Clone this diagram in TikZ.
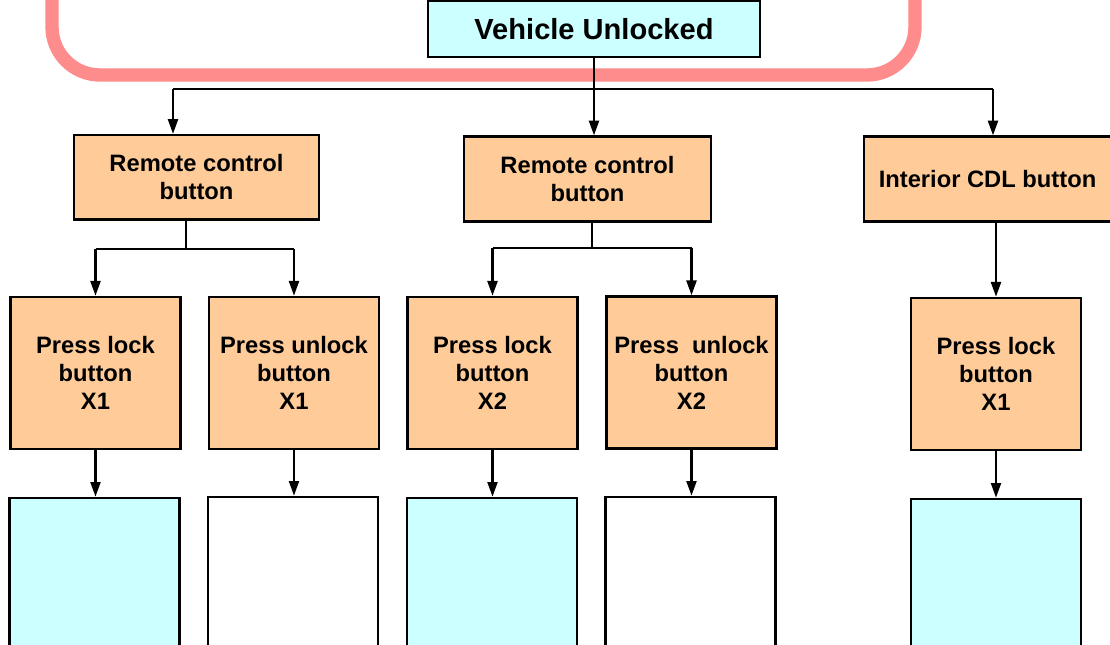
\documentclass[tikz,border=0pt]{standalone}
\usepackage{fontspec}
\setmainfont{Liberation Sans}
\usetikzlibrary{arrows.meta}
\definecolor{peach}{RGB}{255,204,153}
\definecolor{lcyan}{RGB}{204,255,255}
\definecolor{pinkline}{RGB}{255,140,140}
\begin{document}
\begin{tikzpicture}[x=0.75pt,y=-0.75pt,
  box/.style={draw=black,line width=2pt,inner sep=0pt,align=center,
    font=\fontsize{17.8}{21}\selectfont\bfseries},
  topbox/.style={box,fill=lcyan,minimum width=249pt,minimum height=42pt,
    font=\fontsize{21.8}{26}\selectfont\bfseries},
  srcbox/.style={box,fill=peach,minimum height=63.5pt},
  actbox/.style={box,fill=peach,minimum width=127.5pt,minimum height=114pt},
  resbox/.style={box,minimum width=127.5pt,minimum height=151.5pt},
  conn/.style={line width=1.6pt,black},
  arr/.style={conn,-{Triangle[length=11pt,width=7.5pt]}}]
\useasboundingbox (0,0) rectangle (1110,645);
\clip (0,0) rectangle (1110,645);
% pink frame
\draw[pinkline,line width=10pt,rounded corners=36pt] (52,-120) rectangle (915,75);
% top
\node[topbox] (A) at (594,29) {Vehicle Unlocked};
% level 1
\node[srcbox,minimum width=183.75pt] (B1) at (196.5,177.5) {Remote control\\button};
\node[srcbox,minimum width=185.25pt] (B2) at (587.5,179) {Remote control\\button};
\node[srcbox,minimum width=185.25pt] (B3) at (987.5,179) {Interior CDL button};
% level 2
\node[actbox] (C1) at (95.5,373) {Press lock\\button\\X1};
\node[actbox] (C2) at (294,373) {\raisebox{0pt}{}Press unlock\\button\\X1};
\node[actbox] (C3) at (492.5,373) {Press lock\\button\\X2};
\node[actbox] (C4) at (691.5,372.5) {Press\ \ unlock\\button\\X2};
\node[actbox] (C5) at (996,374) {Press lock\\button\\X1};
% level 3
\node[resbox,fill=lcyan] (D1) at (94.5,599) {};
\node[resbox,fill=white] (D2) at (293,598) {};
\node[resbox,fill=lcyan] (D3) at (492,599) {};
\node[resbox,fill=white] (D4) at (690.5,598) {};
\node[resbox,fill=lcyan] (D5) at (996,600) {};
% connectors from top
\coordinate (t1) at (173,89);
\coordinate (t3) at (993,89);
\draw[conn] (t1) -- (t3);
\draw[arr] (A.south) -- (A.south |- B2.north);
\draw[arr] (t1) -- (t1 |- B1.north);
\draw[arr] (t3) -- (t3 |- B3.north);
% B1 split
\coordinate (s1) at (186,249);
\draw[conn] (s1 |- B1.south) -- (s1);
\draw[conn] (C1.north |- s1) -- (C2.north |- s1);
\draw[arr] (C1.north |- s1) -- (C1.north);
\draw[arr] (C2.north |- s1) -- (C2.north);
% B2 split
\coordinate (s2) at (592,248);
\draw[conn] (s2 |- B2.south) -- (s2);
\draw[conn] (C3.north |- s2) -- (C4.north |- s2);
\draw[arr] (C3.north |- s2) -- (C3.north);
\draw[arr] (C4.north |- s2) -- (C4.north);
% B3
\draw[arr] (C5.north |- B3.south) -- (C5.north);
% level 2 -> 3
\draw[arr] (C1.south) -- (C1.south |- D1.north);
\draw[arr] (C2.south) -- (C2.south |- D2.north);
\draw[arr] (C3.south) -- (C3.south |- D3.north);
\draw[arr] (C4.south) -- (C4.south |- D4.north);
\draw[arr] (C5.south) -- (C5.south |- D5.north);
\end{tikzpicture}
\end{document}
